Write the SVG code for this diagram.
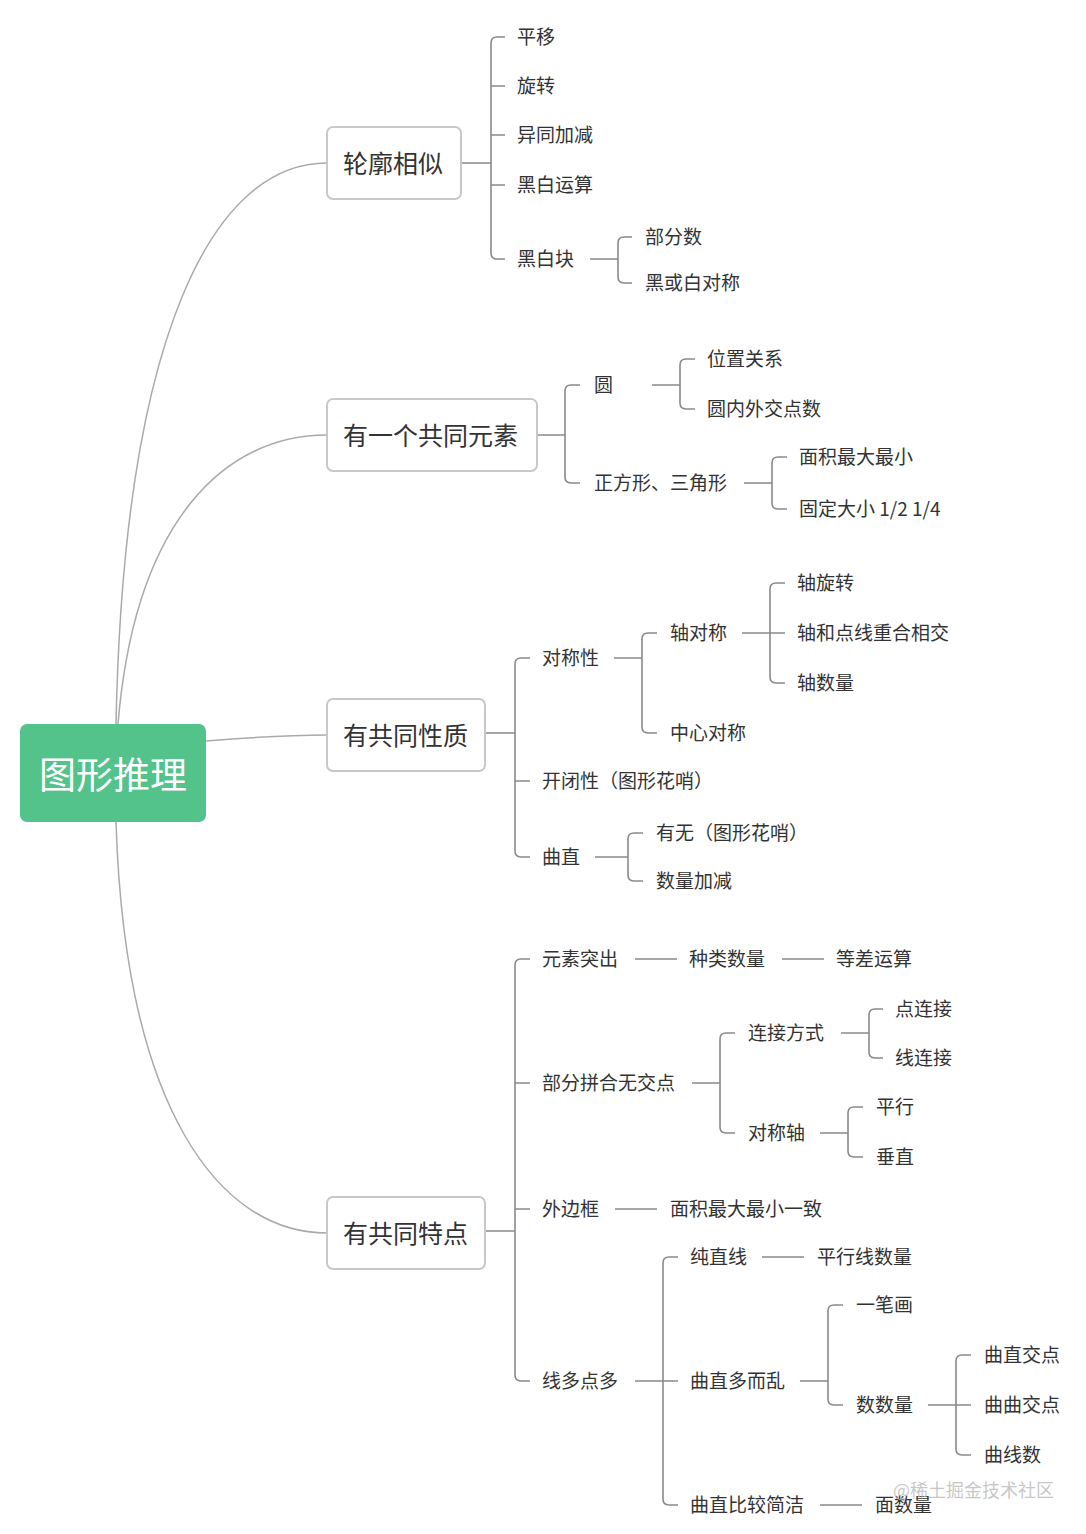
<svg xmlns="http://www.w3.org/2000/svg" width="1086" height="1534" viewBox="0 0 1086 1534">
<style>
.t{font-family:"Noto Sans CJK SC","Noto Sans",sans-serif;font-size:19px;fill:#333;dominant-baseline:central;transform:translateY(-1.5px)}
.t1{font-family:"Noto Sans CJK SC","Noto Sans",sans-serif;font-size:25px;fill:#333;dominant-baseline:central;transform:translateY(-1.5px)}
.box{fill:#fff;stroke:#c8c8c8;stroke-width:2}
.ln{fill:none;stroke:#8a8a8a;stroke-width:1.6}
.cv{fill:none;stroke:#aaa;stroke-width:1.5}
</style>
<rect width="1086" height="1534" fill="#fff"/>
<g id="connectors">
<path class="cv" d="M116 724 C124 330 215 163 327 163"/>
<path class="cv" d="M118 724 C135 520 225 435 327 435"/>
<path class="cv" d="M206 741 C255 737 285 735 327 735"/>
<path class="cv" d="M116 822 C125 1110 220 1233 327 1233"/>
<path class="ln" d="M461 163 H491 M505 37 H497 Q491 37 491 43 V253 Q491 259 497 259 H505 M491 86 H505 M491 135 H505 M491 185 H505"/>
<path class="ln" d="M590 259 H618 M632 237 H624 Q618 237 618 243 V277 Q618 283 624 283 H632"/>
<path class="ln" d="M537 435 H565 M580 385 H571 Q565 385 565 391 V477 Q565 483 571 483 H580"/>
<path class="ln" d="M652 385 H680 M695 359 H686 Q680 359 680 365 V403 Q680 409 686 409 H695"/>
<path class="ln" d="M744 483 H772 M787 457 H778 Q772 457 772 463 V503 Q772 509 778 509 H787"/>
<path class="ln" d="M485 733 H515 M530 658 H521 Q515 658 515 664 V851 Q515 857 521 857 H530 M515 781 H530"/>
<path class="ln" d="M614 658 H642 M657 633 H648 Q642 633 642 639 V727 Q642 733 648 733 H657"/>
<path class="ln" d="M742 633 H785 M785 583 H776 Q770 583 770 589 V677 Q770 683 776 683 H785"/>
<path class="ln" d="M595 857 H628 M643 833 H634 Q628 833 628 839 V875 Q628 881 634 881 H643"/>
<path class="ln" d="M485 1231 H515 M530 959 H521 Q515 959 515 965 V1375 Q515 1381 521 1381 H530 M515 1083 H530 M515 1209 H530"/>
<path class="ln" d="M635 959 H677 M782 959 H824"/>
<path class="ln" d="M692 1083 H720 M735 1033 H726 Q720 1033 720 1039 V1127 Q720 1133 726 1133 H735"/>
<path class="ln" d="M841 1033 H869 M883 1009 H875 Q869 1009 869 1015 V1052 Q869 1058 875 1058 H883"/>
<path class="ln" d="M820 1133 H848 M863 1107 H854 Q848 1107 848 1113 V1151 Q848 1157 854 1157 H863"/>
<path class="ln" d="M615 1209 H657"/>
<path class="ln" d="M635 1381 H663 M678 1257 H669 Q663 1257 663 1263 V1499 Q663 1505 669 1505 H678 M663 1381 H678"/>
<path class="ln" d="M762 1257 H804"/>
<path class="ln" d="M800 1381 H828 M843 1305 H834 Q828 1305 828 1311 V1399 Q828 1405 834 1405 H843"/>
<path class="ln" d="M928 1405 H971 M971 1355 H962 Q956 1355 956 1361 V1449 Q956 1455 962 1455 H971"/>
<path class="ln" d="M820 1505 H862"/>
</g>
<g id="root">
<rect x="20" y="724" width="186" height="98" rx="7" fill="#53c38b"/>
<text x="113" y="773" text-anchor="middle" style="font-family:'Noto Sans CJK SC','Noto Sans',sans-serif;font-size:37px;fill:#fff;dominant-baseline:central">图形推理</text>
</g>
<g id="n-lunkuo"><rect class="box" x="327" y="127" width="134" height="72" rx="6"/><text class="t1" x="343" y="163">轮廓相似</text></g>
<g id="n-yuansu"><rect class="box" x="327" y="399" width="210" height="72" rx="6"/><text class="t1" x="343" y="435">有一个共同元素</text></g>
<g id="n-xingzhi"><rect class="box" x="327" y="699" width="158" height="72" rx="6"/><text class="t1" x="343" y="735">有共同性质</text></g>
<g id="n-tedian"><rect class="box" x="327" y="1197" width="158" height="72" rx="6"/><text class="t1" x="343" y="1233">有共同特点</text></g>
<g id="n-a1"><text class="t" x="517" y="37">平移</text></g>
<g id="n-a2"><text class="t" x="517" y="86">旋转</text></g>
<g id="n-a3"><text class="t" x="517" y="135">异同加减</text></g>
<g id="n-a4"><text class="t" x="517" y="185">黑白运算</text></g>
<g id="n-a5"><text class="t" x="517" y="259">黑白块</text></g>
<g id="n-a51"><text class="t" x="645" y="237">部分数</text></g>
<g id="n-a52"><text class="t" x="645" y="283">黑或白对称</text></g>
<g id="n-b1"><text class="t" x="594" y="385">圆</text></g>
<g id="n-b11"><text class="t" x="707" y="359">位置关系</text></g>
<g id="n-b12"><text class="t" x="707" y="409">圆内外交点数</text></g>
<g id="n-b2"><text class="t" x="594" y="483">正方形、三角形</text></g>
<g id="n-b21"><text class="t" x="799" y="457">面积最大最小</text></g>
<g id="n-b22"><text class="t" x="799" y="509">固定大小 1/2 1/4</text></g>
<g id="n-c1"><text class="t" x="542" y="658">对称性</text></g>
<g id="n-c11"><text class="t" x="670" y="633">轴对称</text></g>
<g id="n-c111"><text class="t" x="797" y="583">轴旋转</text></g>
<g id="n-c112"><text class="t" x="797" y="633">轴和点线重合相交</text></g>
<g id="n-c113"><text class="t" x="797" y="683">轴数量</text></g>
<g id="n-c12"><text class="t" x="670" y="733">中心对称</text></g>
<g id="n-c2"><text class="t" x="542" y="781">开闭性（图形花哨）</text></g>
<g id="n-c3"><text class="t" x="542" y="857">曲直</text></g>
<g id="n-c31"><text class="t" x="656" y="833">有无（图形花哨）</text></g>
<g id="n-c32"><text class="t" x="656" y="881">数量加减</text></g>
<g id="n-d1"><text class="t" x="542" y="959">元素突出</text></g>
<g id="n-d11"><text class="t" x="689" y="959">种类数量</text></g>
<g id="n-d111"><text class="t" x="836" y="959">等差运算</text></g>
<g id="n-d2"><text class="t" x="542" y="1083">部分拼合无交点</text></g>
<g id="n-d21"><text class="t" x="748" y="1033">连接方式</text></g>
<g id="n-d211"><text class="t" x="895" y="1009">点连接</text></g>
<g id="n-d212"><text class="t" x="895" y="1058">线连接</text></g>
<g id="n-d22"><text class="t" x="748" y="1133">对称轴</text></g>
<g id="n-d221"><text class="t" x="876" y="1107">平行</text></g>
<g id="n-d222"><text class="t" x="876" y="1157">垂直</text></g>
<g id="n-d3"><text class="t" x="542" y="1209">外边框</text></g>
<g id="n-d31"><text class="t" x="670" y="1209">面积最大最小一致</text></g>
<g id="n-d4"><text class="t" x="542" y="1381">线多点多</text></g>
<g id="n-d41"><text class="t" x="690" y="1257">纯直线</text></g>
<g id="n-d411"><text class="t" x="817" y="1257">平行线数量</text></g>
<g id="n-d42"><text class="t" x="690" y="1381">曲直多而乱</text></g>
<g id="n-d421"><text class="t" x="856" y="1305">一笔画</text></g>
<g id="n-d422"><text class="t" x="856" y="1405">数数量</text></g>
<g id="n-d4221"><text class="t" x="984" y="1355">曲直交点</text></g>
<g id="n-d4222"><text class="t" x="984" y="1405">曲曲交点</text></g>
<g id="n-d4223"><text class="t" x="984" y="1455">曲线数</text></g>
<g id="n-d43"><text class="t" x="690" y="1505">曲直比较简洁</text></g>
<g id="n-d431"><text class="t" x="875" y="1505">面数量</text></g>
<text x="893" y="1489" style="font-family:'Noto Sans CJK SC','Noto Sans',sans-serif;font-size:18px;fill:#b4b4b4;fill-opacity:0.75;dominant-baseline:central">@稀土掘金技术社区</text>
</svg>
